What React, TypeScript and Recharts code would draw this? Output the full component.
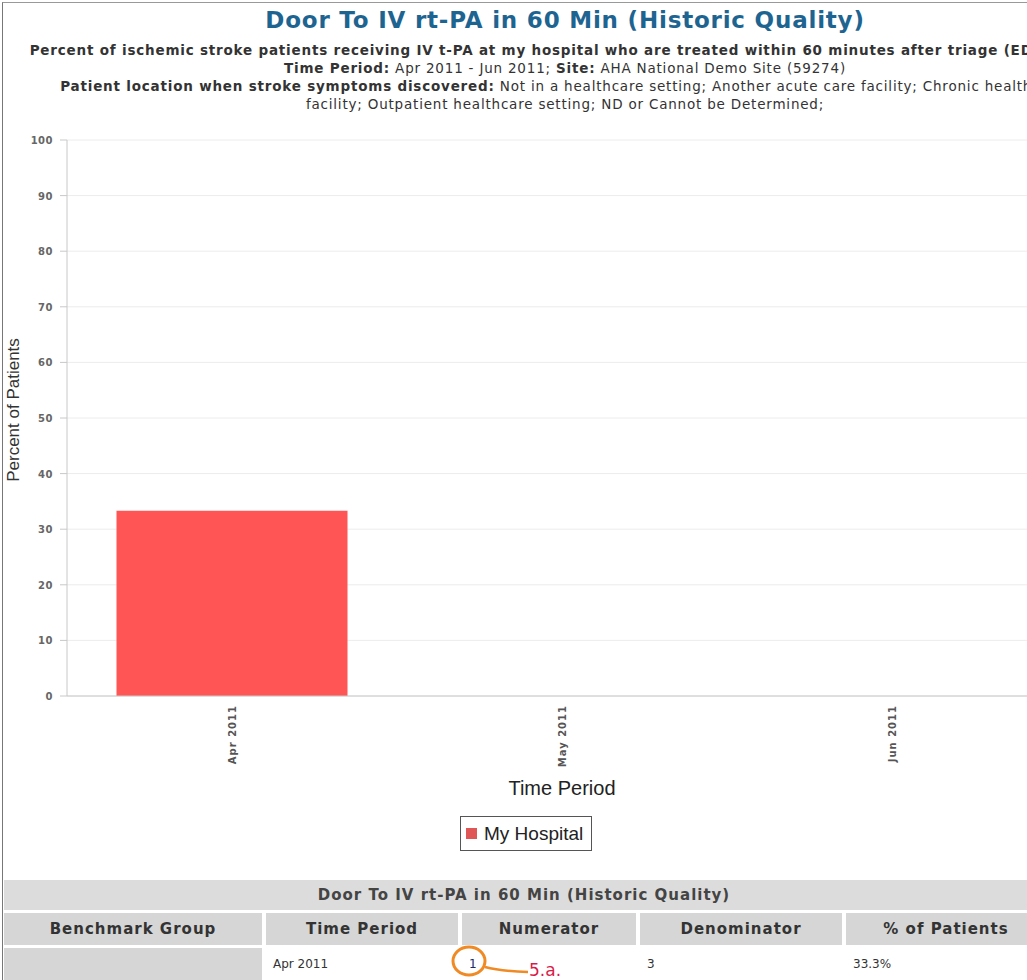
import { BarChart, Bar, XAxis, YAxis, CartesianGrid, Legend } from "recharts"

const months = ["Apr 2011", "May 2011", "Jun 2011"]
const myHospital = [33.3, null, null]
const yTicks = [0, 10, 20, 30, 40, 50, 60, 70, 80, 90, 100]

const tableTitle = "Door To IV rt-PA in 60 Min (Historic Quality)"
const tableHeaders = ["Benchmark Group", "Time Period", "Numerator", "Denominator", "% of Patients"]
const tableRow = ["", "Apr 2011", "1", "3", "33.3%"]

const data = months.map((m, i) => ({ month: m, myHospital: myHospital[i] }))

const colLeft = [4, 266, 462, 640, 846]
const colWidth = [258, 192, 174, 202, 200]

const XTick = ({ x, y, payload }: any) => (
  <text
    x={x}
    y={y + 1}
    dy={4}
    transform={`rotate(-90 ${x} ${y + 1})`}
    textAnchor="end"
    fontFamily="DejaVu Sans"
    fontWeight="bold"
    fontSize={10}
    letterSpacing={1}
    fill="#555"
  >
    {payload.value}
  </text>
)

const YTick = ({ x, y, payload }: any) => (
  <text
    x={x}
    y={y}
    dy={4}
    textAnchor="end"
    fontFamily="DejaVu Sans"
    fontWeight="bold"
    fontSize={10}
    letterSpacing={0.5}
    fill="#666"
  >
    {payload.value}
  </text>
)

const LegendBox = () => (
  <div style={{ height: 50, paddingTop: 10, boxSizing: "border-box" }}>
    <div
      style={{
        marginLeft: 460,
        width: 130,
        height: 33,
        border: "1px solid #555",
        display: "flex",
        alignItems: "center",
        fontFamily: "Liberation Sans",
        fontSize: 19,
        color: "#222",
      }}
    >
      <span style={{ display: "inline-block", width: 11, height: 11, background: "#e05555", marginLeft: 5, marginRight: 7 }} />
      My Hospital
    </div>
  </div>
)

export default function App() {
  const subStyle: any = { whiteSpace: "nowrap", height: 18, lineHeight: "18px" }
  return (
    <div
      style={{
        position: "absolute",
        left: 0,
        top: 0,
        width: 1027,
        height: 980,
        overflow: "hidden",
        background: "#fff",
        fontFamily: '"DejaVu Sans", Verdana, sans-serif',
      }}
    >
      <div style={{ position: "absolute", left: 2, top: 2, width: 1200, height: 1000, borderLeft: "1px solid #777", borderTop: "1px solid #999" }} />

      <div style={{ position: "absolute", left: 0, top: 0, width: 1130, textAlign: "center" }}>
        <div style={{ marginTop: 5, height: 30, lineHeight: "30px", fontSize: 23, letterSpacing: 0.8, fontWeight: "bold", color: "#1e6491", whiteSpace: "nowrap" }}>
          Door To IV rt-PA in 60 Min (Historic Quality)
        </div>
        <div style={{ marginTop: 6, fontSize: 13.5, letterSpacing: 0.8, color: "#333" }}>
          <div style={{ ...subStyle, fontWeight: "bold" }}>
            Percent of ischemic stroke patients receiving IV t-PA at my hospital who are treated within 60 minutes after triage (ED arrival)
          </div>
          <div style={subStyle}>
            <b>Time Period:</b> Apr 2011 - Jun 2011; <b>Site:</b> AHA National Demo Site (59274)
          </div>
          <div style={subStyle}>
            <b>Patient location when stroke symptoms discovered:</b> Not in a healthcare setting; Another acute care facility; Chronic health care
          </div>
          <div style={subStyle}>facility; Outpatient healthcare setting; ND or Cannot be Determined;</div>
        </div>
      </div>

      <div style={{ position: "absolute", left: 0, top: 120 }}>
        <BarChart
          width={1070}
          height={736}
          data={data}
          margin={{ top: 20, right: 13, bottom: 0, left: 0 }}
          barCategoryGap="15%"
        >
          <CartesianGrid vertical={false} stroke="#ececec" />
          <XAxis
            dataKey="month"
            height={110}
            tick={<XTick />}
            tickLine={false}
            axisLine={{ stroke: "#c8c8c8" }}
            interval={0}
            label={{
              content: ({ viewBox }: any) => (
                <text
                  x={viewBox.x + viewBox.width / 2}
                  y={viewBox.y + 99}
                  textAnchor="middle"
                  fontFamily="Liberation Sans"
                  fontSize={20}
                  fill="#222"
                >
                  Time Period
                </text>
              ),
            }}
          />
          <YAxis
            width={67}
            domain={[0, 100]}
            ticks={yTicks}
            interval={0}
            tick={<YTick />}
            tickSize={7}
            tickMargin={7}
            tickLine={{ stroke: "#c8c8c8" }}
            axisLine={{ stroke: "#c8c8c8" }}
            label={{
              content: ({ viewBox }: any) => (
                <text
                  x={19}
                  y={viewBox.y + viewBox.height / 2 - 8}
                  transform={`rotate(-90 19 ${viewBox.y + viewBox.height / 2 - 8})`}
                  textAnchor="middle"
                  fontFamily="Liberation Sans"
                  fontSize={17}
                  fill="#333"
                >
                  Percent of Patients
                </text>
              ),
            }}
          />
          <Legend verticalAlign="bottom" content={<LegendBox />} />
          <Bar dataKey="myHospital" name="My Hospital" fill="#ff5555" isAnimationActive={false} />
        </BarChart>
      </div>

      <div style={{ position: "absolute", left: 4, top: 880, width: 1040, height: 30, background: "#dcdcdc", textAlign: "center", lineHeight: "30px", fontSize: 15, letterSpacing: 1, fontWeight: "bold", color: "#444", whiteSpace: "nowrap" }}>
        {tableTitle}
      </div>
      {tableHeaders.map((h, i) => (
        <div
          key={h}
          style={{
            position: "absolute",
            left: colLeft[i],
            top: 913,
            width: colWidth[i],
            height: 32,
            lineHeight: "32px",
            background: "#d6d6d6",
            textAlign: "center",
            fontSize: 15,
            letterSpacing: 1,
            fontWeight: "bold",
            color: "#333",
            whiteSpace: "nowrap",
          }}
        >
          {h}
        </div>
      ))}
      {tableRow.map((c, i) => (
        <div
          key={i}
          style={{
            position: "absolute",
            left: colLeft[i],
            top: 948,
            width: colWidth[i],
            height: 32,
            lineHeight: "32px",
            background: i === 0 ? "#d6d6d6" : "#fff",
            paddingLeft: 7,
            boxSizing: "border-box",
            fontSize: 12,
            color: i === 2 ? "#1a2a6c" : "#333",
            whiteSpace: "nowrap",
          }}
        >
          {c}
        </div>
      ))}

      <svg style={{ position: "absolute", left: 440, top: 940 }} width={150} height={40}>
        <ellipse cx={29} cy={21} rx={16} ry={14} fill="none" stroke="#f08a24" strokeWidth={3} />
        <path d="M45 27 Q 60 31 88 32" fill="none" stroke="#f08a24" strokeWidth={2.5} />
        <text x={89} y={36} fontFamily="DejaVu Sans" fontSize={17} fill="#d81c4a">
          5.a.
        </text>
      </svg>
    </div>
  )
}
